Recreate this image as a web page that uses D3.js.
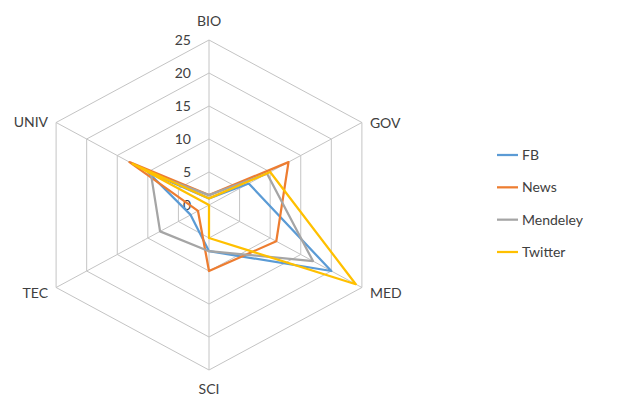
<!DOCTYPE html>
<html>
<head>
<meta charset="utf-8">
<script src="https://d3js.org/d3.v7.min.js"></script>
<style>
  html, body { margin: 0; padding: 0; background: #fff; }
  svg { display: block; }
  text { font-family: "Lato", "Open Sans", "Noto Sans", sans-serif; fill: #404040; }
</style>
</head>
<body>
<svg id="chart" width="619" height="396"></svg>
<script>
// Radar axes and series values
const axes = ["BIO", "GOV", "MED", "SCI", "TEC", "UNIV"];
const tickValues = [0, 5, 10, 15, 20, 25];
const seriesNames = ["FB", "News", "Mendeley", "Twitter"];
const fbValues       = [1, 6.5, 20, 7, 3, 10];
const newsValues     = [1.5, 13, 11, 10, 1.8, 13];
const mendeleyValues = [1.5, 9.5, 17, 7, 8, 9.5];
const twitterValues  = [1, 10, 24, 5, 0, 12.5];
const seriesColors = ["#5B9BD5", "#ED7D31", "#A5A5A5", "#FFC000"];

const seriesValues = [fbValues, newsValues, mendeleyValues, twitterValues];

const svg = d3.select("#chart");
const cx = 209, cy = 205;
const stretchX = 1.07; // plot area is slightly wider than tall

const r = d3.scaleLinear().domain([0, 25]).range([0, 165]);
const angle = d3.scalePoint().domain(axes).range([0, 2 * Math.PI * (axes.length - 1) / axes.length]);

function pt(axis, v) {
  const a = angle(axis);
  return [cx + r(v) * Math.sin(a) * stretchX, cy - r(v) * Math.cos(a)];
}

const grid = svg.append("g").attr("fill", "none").attr("stroke", "#c4c4c4").attr("stroke-width", 1);

// concentric hexagon rings
tickValues.filter(t => t > 0).forEach(t => {
  grid.append("path")
    .attr("d", d3.line()(axes.map(ax => pt(ax, t))) + "Z");
});

// spokes
axes.forEach(ax => {
  const [x, y] = pt(ax, 25);
  grid.append("line").attr("x1", cx).attr("y1", cy).attr("x2", x).attr("y2", y);
});

// tick labels along the BIO spoke
svg.append("g").selectAll("text").data(tickValues).join("text")
  .attr("x", cx - 18)
  .attr("y", d => pt("BIO", d)[1] + 5)
  .attr("text-anchor", "end")
  .attr("font-size", 14)
  .text(d => d);

// axis category labels
const labelPos = {
  BIO:  { dx: 0,   dy: -14, anchor: "middle" },
  GOV:  { dx: 8,   dy: 5,   anchor: "start" },
  MED:  { dx: 8,   dy: 10,  anchor: "start" },
  SCI:  { dx: 0,   dy: 24,  anchor: "middle" },
  TEC:  { dx: -8,  dy: 10,  anchor: "end" },
  UNIV: { dx: -8,  dy: 4,   anchor: "end" }
};
svg.append("g").selectAll("text").data(axes).join("text")
  .attr("x", d => pt(d, 25)[0] + labelPos[d].dx)
  .attr("y", d => pt(d, 25)[1] + labelPos[d].dy)
  .attr("text-anchor", d => labelPos[d].anchor)
  .attr("font-size", 14)
  .text(d => d);

// series polygons
const lineGen = d3.line();
svg.append("g").selectAll("path").data(seriesValues).join("path")
  .attr("d", vals => lineGen(axes.map((ax, i) => pt(ax, vals[i]))) + "Z")
  .attr("fill", "none")
  .attr("stroke", (d, i) => seriesColors[i])
  .attr("stroke-width", 2.25)
  .attr("stroke-linejoin", "round");

// legend
const legend = svg.append("g");
const ly = d3.scalePoint().domain(seriesNames).range([155, 252]);
seriesNames.forEach((name, i) => {
  legend.append("line")
    .attr("x1", 497).attr("x2", 518)
    .attr("y1", ly(name)).attr("y2", ly(name))
    .attr("stroke", seriesColors[i]).attr("stroke-width", 2.25);
  legend.append("text")
    .attr("x", 522).attr("y", ly(name) + 5)
    .attr("font-size", 14)
    .text(name);
});
</script>
</body>
</html>
